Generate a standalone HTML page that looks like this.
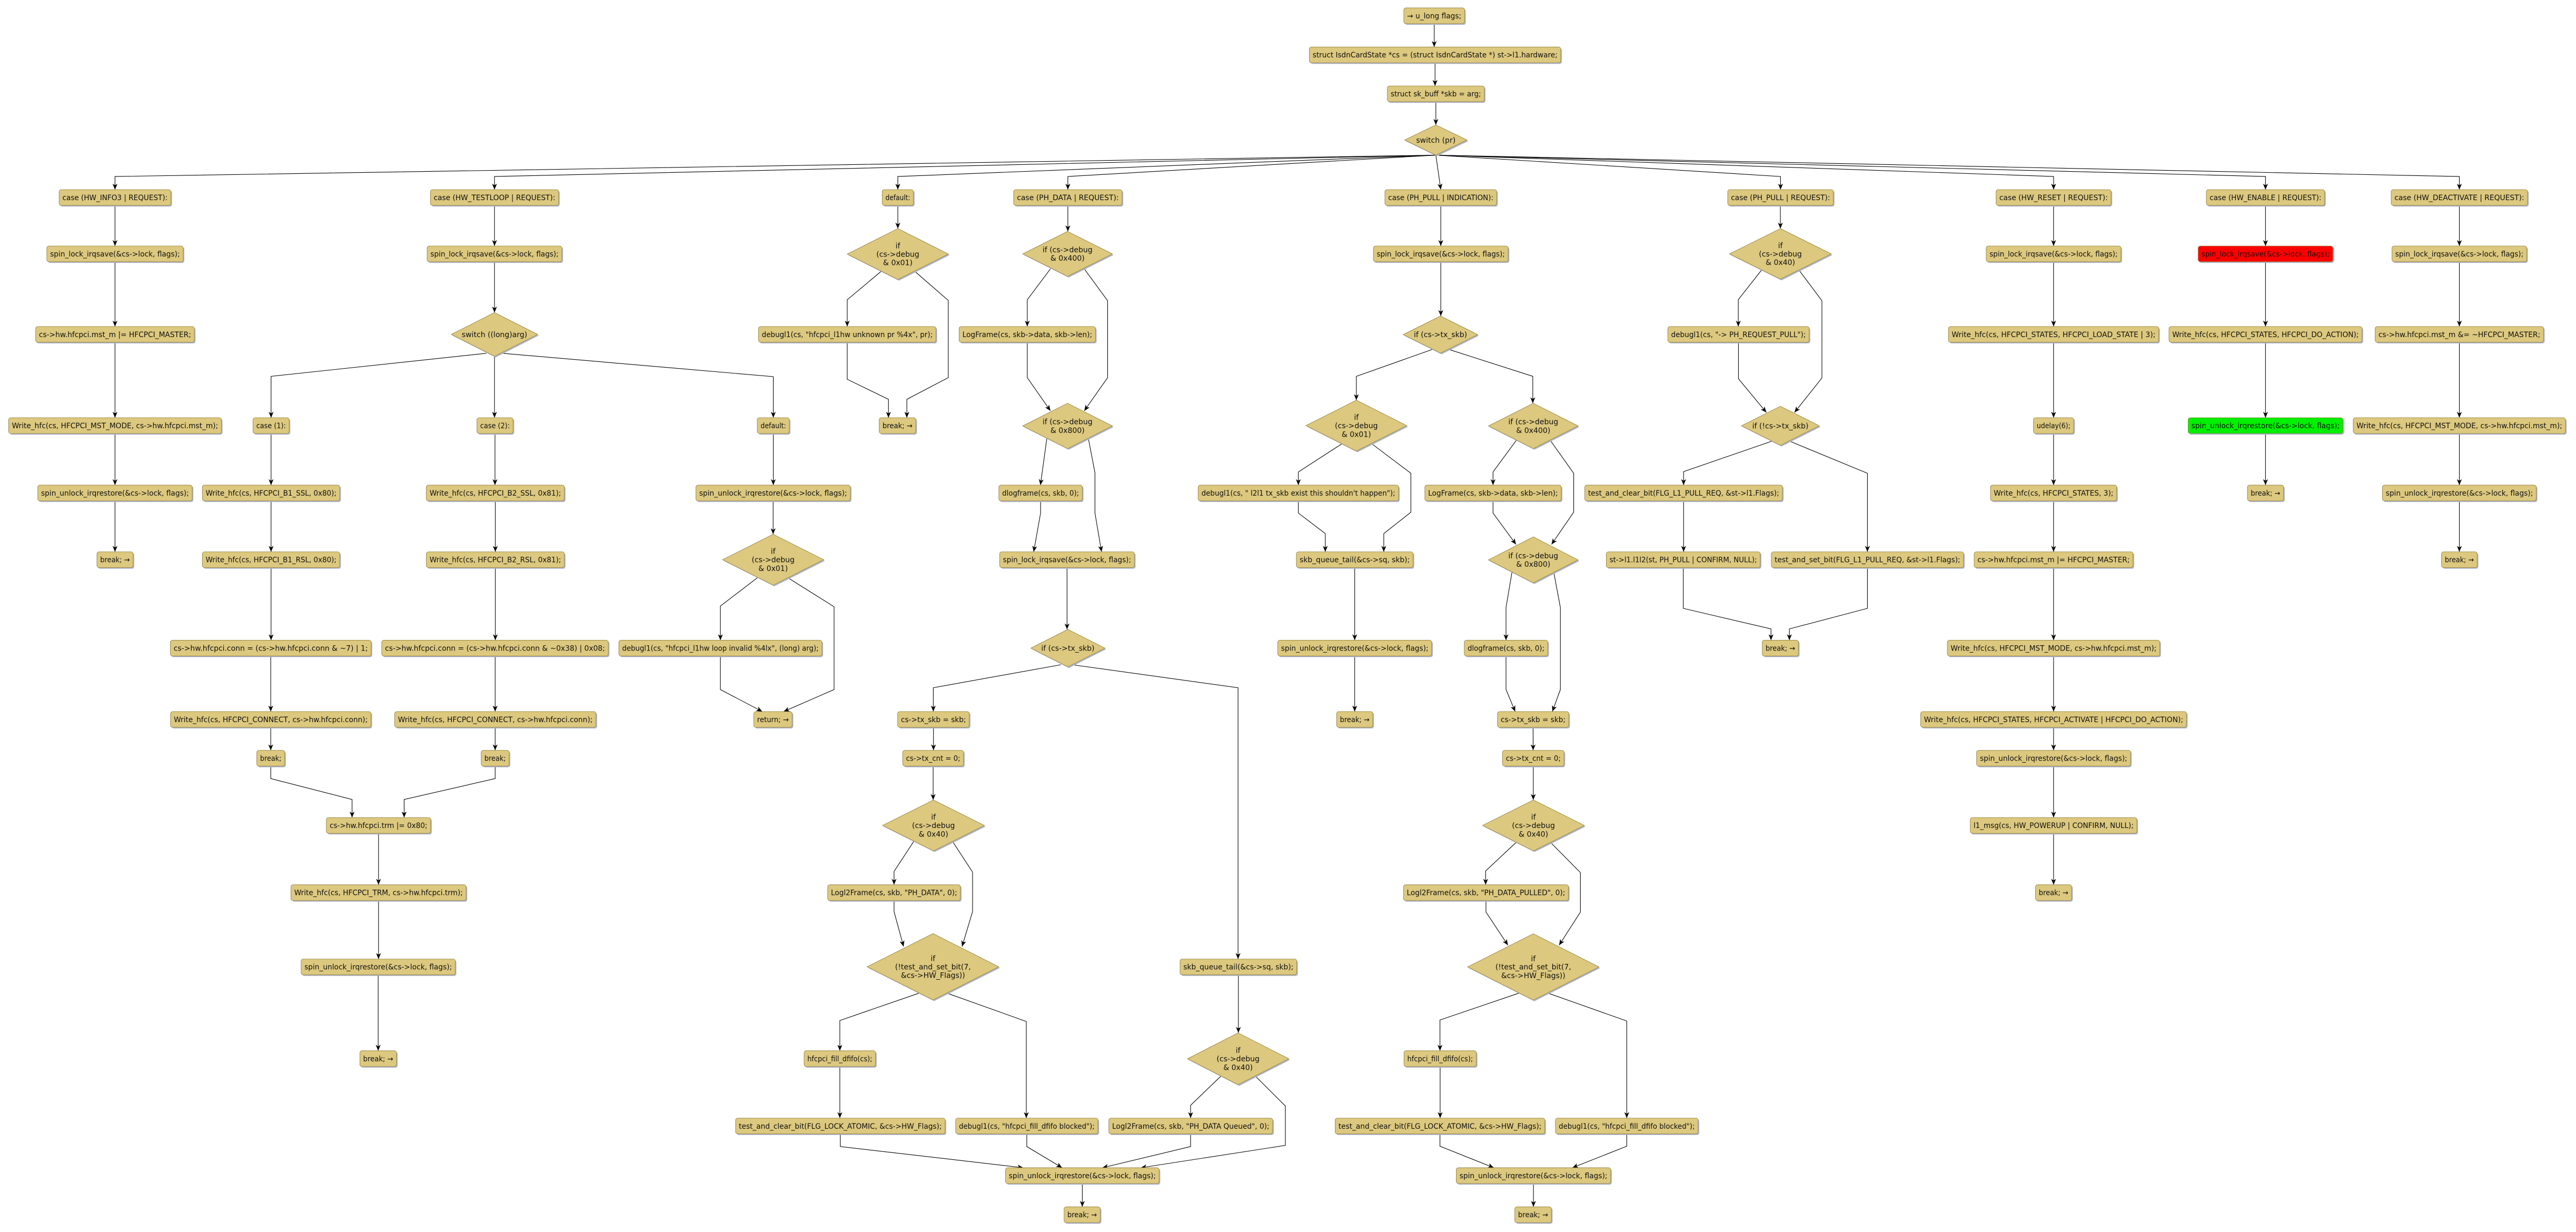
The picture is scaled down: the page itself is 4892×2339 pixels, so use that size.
<!DOCTYPE html>
<html><head><meta charset="utf-8"><style>
html,body{margin:0;padding:0;background:#fff}
svg{display:block}
.s{fill:#aeb6d0}
.b{fill:#dcc87e;stroke:#9a8644;stroke-width:.3}
.r{fill:#ff0000;stroke:#9a8644;stroke-width:.3}
.g{fill:#00f000;stroke:#9a8644;stroke-width:.3}
text{font-family:"DejaVu Sans","Liberation Sans",sans-serif;font-size:4.5px;fill:#111;text-anchor:middle}
.e{fill:none;stroke:#000;stroke-width:.35;marker-end:url(#a)}
</style></head><body>
<svg width="4892" height="2339" viewBox="0 0 1568 749.7" preserveAspectRatio="none" xmlns="http://www.w3.org/2000/svg">
<defs><marker id="a" markerUnits="userSpaceOnUse" markerWidth="4" markerHeight="3.2" refX="3.6" refY="1.5" orient="auto"><path d="M0,0 L3.6,1.5 L0,3 L1,1.5z" fill="#000"/></marker></defs>

<!-- EDGES -->
<g>
<path class="e" d="M873 14.4V28.6"/><path class="e" d="M873.5 38.2V52.3"/><path class="e" d="M874 61.9V76"/>
<path class="e" d="M874 94.4L70 107.4V115.4"/><path class="e" d="M874 94.4L301 107.4V115.4"/><path class="e" d="M874 94.4L546.5 107.4V115.4"/><path class="e" d="M874 94.4L650 107.4V115.4"/><path class="e" d="M874 94.4L877 115.4"/><path class="e" d="M874 94.4L1083.8 107.4V115.4"/><path class="e" d="M874 94.4L1250 107.4V115.4"/><path class="e" d="M874 94.4L1379 107.4V115.4"/><path class="e" d="M874 94.4L1497 107.4V115.4"/>
<!-- HW_INFO3 -->
<path class="e" d="M70 125V149.7"/><path class="e" d="M70 159.3V198.7"/><path class="e" d="M70 208.3V254.2"/><path class="e" d="M70 263.8V295.2"/><path class="e" d="M70 304.8V335.8"/>
<!-- TESTLOOP -->
<path class="e" d="M301 125V149.7"/><path class="e" d="M301 159.3V190.2"/>
<path class="e" d="M296 215L165 229V254.2"/><path class="e" d="M301 216.8V254.2"/><path class="e" d="M306 215L470.7 229.2V254.2"/>
<path class="e" d="M165 263.8V295.2"/><path class="e" d="M165 304.8V335.8"/><path class="e" d="M165 345.4V389.6"/><path class="e" d="M164.8 399.2V433"/><path class="e" d="M164.8 442.6V456.6"/>
<path class="e" d="M301.3 263.8V295.2"/><path class="e" d="M301.5 304.8V335.8"/><path class="e" d="M301.5 345.4V389.6"/><path class="e" d="M301.4 399.2V433"/><path class="e" d="M301.4 442.6V456.6"/>
<path class="e" d="M164.8 466.2V473.8L214.3 486.5V497.5"/><path class="e" d="M301.4 466.2V473.8L246 486.5V497.5"/>
<path class="e" d="M230.4 507.1V538.4"/><path class="e" d="M230.4 548V583.6"/><path class="e" d="M230.2 593.2V639.4"/>
<path class="e" d="M470.7 263.8V295.2"/><path class="e" d="M470.6 304.8V325.1"/>
<path class="e" d="M461 351.6L438.5 368.8V389.6"/><path class="e" d="M479.6 351.6L507.7 369.2V419.6L477 433"/><path class="e" d="M438.5 399.2V419.6L464 433"/>
<!-- default main -->
<path class="e" d="M546.5 125V139.1"/>
<path class="e" d="M536.5 165L515.7 182.4V198.7"/><path class="e" d="M556.7 165L577.2 182.8V229.8L552 243V254.2"/><path class="e" d="M515.7 208.3V230.8L540.8 243V254.2"/>
<!-- PH_DATA -->
<path class="e" d="M650 125V140.8"/>
<path class="e" d="M639.4 163.6L625.3 182.4V198.7"/><path class="e" d="M660 163.6L674.2 183V229.8L660 250"/><path class="e" d="M625.3 208.3V229.8L639.4 250"/>
<path class="e" d="M637.2 266.9L633.3 295.2"/><path class="e" d="M662.5 266.9L666.5 287.7V312.2L670.5 335.8"/><path class="e" d="M633.4 304.8V312.2L629.2 335.8"/>
<path class="e" d="M649.5 345.4V383"/>
<path class="e" d="M645.8 404.5L568.1 418.5V433"/><path class="e" d="M652.6 404.5L753.6 418.5V583.6"/>
<path class="e" d="M568.2 442.6V456.6"/><path class="e" d="M568 466.2V486.8"/>
<path class="e" d="M556.2 512L544.2 530.3V538.4"/><path class="e" d="M579.8 512L592 530.7V554.7L585.6 576"/><path class="e" d="M544.2 548V554.7L550 576"/>
<path class="e" d="M559.3 604.4L511.2 621V639.4"/><path class="e" d="M576.6 604.4L624.7 621.6V680.4"/>
<path class="e" d="M511.2 649V680.4"/>
<path class="e" d="M511.5 690V697.7L622.9 710.6"/><path class="e" d="M625 690V697.7L646.5 710.6"/>
<path class="e" d="M753.8 593.2V628.5"/>
<path class="e" d="M743 655L724.7 672.6V680.4"/><path class="e" d="M764.3 655L782.4 673V697L694.4 710.6"/><path class="e" d="M724.7 690V697.7L671 710.6"/>
<path class="e" d="M658.8 720.2V734.4"/>
<!-- PH_PULL IND -->
<path class="e" d="M877 125V149.7"/><path class="e" d="M877 159.3V192.3"/>
<path class="e" d="M872 212.6L825.6 229V243.5"/><path class="e" d="M881.8 212.6L933 229V245.4"/>
<path class="e" d="M816.6 270.2L790.3 287.2V295.2"/><path class="e" d="M835.2 270.2L858.8 288V311.7L842.3 324.7V335.8"/><path class="e" d="M790.3 304.8V312.2L806.7 324.7V335.8"/>
<path class="e" d="M824.6 345.4V389.6"/><path class="e" d="M824.6 399.2V433"/>
<path class="e" d="M923 267.9L908.8 287.2V295.2"/><path class="e" d="M943.6 267.9L957.9 288V311.7L944.4 331.3"/><path class="e" d="M908.8 304.8V312.2L922.8 331.3"/>
<path class="e" d="M920.3 348.4L916.7 369.7V389.6"/><path class="e" d="M945.8 348.4L949.8 369.7V419.6L944.9 433"/><path class="e" d="M916.7 399.2V419.6L922.3 433"/>
<path class="e" d="M933.2 442.6V456.6"/><path class="e" d="M933.3 466.2V486.8"/>
<path class="e" d="M923 512.5L904.3 530V538.4"/><path class="e" d="M943.7 512.5L962 531V555L949 575.2"/><path class="e" d="M904.5 548V555L917.9 575.2"/>
<path class="e" d="M925 604.2L876.5 620.7V639.4"/><path class="e" d="M941.9 604.2L990.2 621.3V680.4"/>
<path class="e" d="M876.6 649V680.4"/>
<path class="e" d="M876.5 690V697.5L909.3 710.6"/><path class="e" d="M990.2 690V697.5L957.1 710.6"/>
<path class="e" d="M933.4 720.2V734.4"/>
<!-- PH_PULL REQ -->
<path class="e" d="M1083.7 125V139.1"/>
<path class="e" d="M1072.3 164.3L1058.1 182.3V198.7"/><path class="e" d="M1095 164.3L1109 183V230L1092.3 251"/><path class="e" d="M1058.2 208.3V230.5L1075.2 251"/>
<path class="e" d="M1078.7 268.4L1024.8 287V295.2"/><path class="e" d="M1089.2 268.4L1136.7 288V335.8"/>
<path class="e" d="M1024.8 304.8V335.8"/>
<path class="e" d="M1024.6 345.4V370.2L1078 382.7V389.6"/><path class="e" d="M1136.7 345.4V370.2L1089.2 382.7V389.6"/>
<!-- HW_RESET -->
<path class="e" d="M1250 125V149.7"/><path class="e" d="M1250 159.3V198.7"/><path class="e" d="M1250 208.3V254.2"/><path class="e" d="M1250 263.8V295.2"/><path class="e" d="M1250 304.8V335.8"/><path class="e" d="M1250 345.4V389.6"/><path class="e" d="M1250 399.2V433"/><path class="e" d="M1250 442.6V456.6"/><path class="e" d="M1250 466.2V497.5"/><path class="e" d="M1250 507.1V538.4"/>
<!-- HW_ENABLE -->
<path class="e" d="M1379 125V149.7"/><path class="e" d="M1379 159.3V198.7"/><path class="e" d="M1379 208.3V254.2"/><path class="e" d="M1379 263.8V295.2"/>
<!-- HW_DEACT -->
<path class="e" d="M1497 125V149.7"/><path class="e" d="M1497 159.3V198.7"/><path class="e" d="M1497 208.3V254.2"/><path class="e" d="M1497 263.8V295.2"/><path class="e" d="M1497 304.8V335.8"/>
</g>

<!-- DIAMONDS -->
<g>
<polygon class="s" points="874.7,76.7 893.7,85.9 874.7,95.1 855.7,85.9"/><polygon class="b" points="874,76 893,85.2 874,94.4 855,85.2"/><text x="874" y="86.8">switch (pr)</text>

<polygon class="s" points="301.7,190.9 328,204.2 301.7,217.5 275.4,204.2"/><polygon class="b" points="301,190.2 327.3,203.5 301,216.8 274.7,203.5"/><text x="301" y="205.1">switch ((long)arg)</text>

<polygon class="s" points="471.3,325.8 502.1,341.3 471.3,356.8 440.5,341.3"/><polygon class="b" points="470.6,325.1 501.4,340.6 470.6,356.1 439.8,340.6"/><text x="470.6" y="337.1">if</text><text x="470.6" y="342.2">(cs-&gt;debug</text><text x="470.6" y="347.4">&amp; 0x01)</text>

<polygon class="s" points="547.2,139.8 578,155.3 547.2,170.8 516.4,155.3"/><polygon class="b" points="546.5,139.1 577.3,154.6 546.5,170.1 515.7,154.6"/><text x="546.5" y="151.1">if</text><text x="546.5" y="156.2">(cs-&gt;debug</text><text x="546.5" y="161.4">&amp; 0x01)</text>

<polygon class="s" points="650.5,141.5 677.8,155.2 650.5,168.9 623.2,155.2"/><polygon class="b" points="649.8,140.8 677.1,154.5 649.8,168.2 622.5,154.5"/><text x="649.8" y="153.5">if (cs-&gt;debug</text><text x="649.8" y="158.7">&amp; 0x400)</text>

<polygon class="s" points="650.5,246.1 677.8,259.9 650.5,273.7 623.2,259.9"/><polygon class="b" points="649.8,245.4 677.1,259.2 649.8,273 622.5,259.2"/><text x="649.8" y="258.2">if (cs-&gt;debug</text><text x="649.8" y="263.4">&amp; 0x800)</text>

<polygon class="s" points="650.7,383.7 673.3,395.1 650.7,406.5 628.1,395.1"/><polygon class="b" points="650,383 672.6,394.4 650,405.8 627.4,394.4"/><text x="650" y="396">if (cs-&gt;tx_skb)</text>

<polygon class="s" points="568.9,487.5 599.9,503 568.9,518.5 537.9,503"/><polygon class="b" points="568.2,486.8 599.2,502.3 568.2,517.8 537.2,502.3"/><text x="568.2" y="498.8">if</text><text x="568.2" y="503.9">(cs-&gt;debug</text><text x="568.2" y="509.1">&amp; 0x40)</text>

<polygon class="s" points="568.6,568.8 608.7,589 568.6,609.2 528.5,589"/><polygon class="b" points="567.9,568.1 608,588.3 567.9,608.5 527.8,588.3"/><text x="567.9" y="584.8">if</text><text x="567.9" y="589.9">(!test_and_set_bit(7,</text><text x="567.9" y="595.1">&amp;cs-&gt;HW_Flags))</text>

<polygon class="s" points="754.3,629.2 785.2,645 754.3,660.8 723.5,645"/><polygon class="b" points="753.6,628.5 784.5,644.3 753.6,660.1 722.8,644.3"/><text x="753.6" y="640.8">if</text><text x="753.6" y="645.9">(cs-&gt;debug</text><text x="753.6" y="651.1">&amp; 0x40)</text>

<polygon class="s" points="877.5,193 900.2,204.3 877.5,215.6 854.8,204.3"/><polygon class="b" points="876.8,192.3 899.5,203.6 876.8,214.9 854.1,203.6"/><text x="876.8" y="205.2">if (cs-&gt;tx_skb)</text>

<polygon class="s" points="826.3,244.2 857,259.7 826.3,275.2 795.6,259.7"/><polygon class="b" points="825.6,243.5 856.3,259 825.6,274.5 794.9,259"/><text x="825.6" y="255.5">if</text><text x="825.6" y="260.6">(cs-&gt;debug</text><text x="825.6" y="265.8">&amp; 0x01)</text>

<polygon class="s" points="934,246.1 961.3,259.9 934,273.7 906.7,259.9"/><polygon class="b" points="933.3,245.4 960.6,259.2 933.3,273 906,259.2"/><text x="933.3" y="258.2">if (cs-&gt;debug</text><text x="933.3" y="263.4">&amp; 0x400)</text>

<polygon class="s" points="934,327.4 961.3,341.4 934,355.4 906.7,341.4"/><polygon class="b" points="933.3,326.7 960.6,340.7 933.3,354.7 906,340.7"/><text x="933.3" y="339.7">if (cs-&gt;debug</text><text x="933.3" y="344.9">&amp; 0x800)</text>

<polygon class="s" points="934.1,487.5 965.1,503 934.1,518.5 903.1,503"/><polygon class="b" points="933.4,486.8 964.4,502.3 933.4,517.8 902.4,502.3"/><text x="933.4" y="498.8">if</text><text x="933.4" y="503.9">(cs-&gt;debug</text><text x="933.4" y="509.1">&amp; 0x40)</text>

<polygon class="s" points="934,568.9 974,589.1 934,609.3 894,589.1"/><polygon class="b" points="933.3,568.2 973.3,588.4 933.3,608.6 893.3,588.4"/><text x="933.3" y="584.9">if</text><text x="933.3" y="590">(!test_and_set_bit(7,</text><text x="933.3" y="595.2">&amp;cs-&gt;HW_Flags))</text>

<polygon class="s" points="1084.4,139.8 1115.4,155.2 1084.4,170.6 1053.4,155.2"/><polygon class="b" points="1083.7,139.1 1114.7,154.5 1083.7,169.9 1052.7,154.5"/><text x="1083.7" y="151">if</text><text x="1083.7" y="156.1">(cs-&gt;debug</text><text x="1083.7" y="161.3">&amp; 0x40)</text>

<polygon class="s" points="1084.4,247.9 1108.1,259.8 1084.4,271.7 1060.7,259.8"/><polygon class="b" points="1083.7,247.2 1107.4,259.1 1083.7,271 1060,259.1"/><text x="1083.7" y="260.7">if (!cs-&gt;tx_skb)</text>
</g>

<!-- BOXES -->
<g>
<rect class="s" x="855.2" y="5.5" width="37" height="9.6" rx="1.3"/><rect class="b" x="854.5" y="4.8" width="37" height="9.6" rx="1.3"/><text x="873" y="11.2" textLength="33" lengthAdjust="spacingAndGlyphs">→ u_long flags;</text>
<rect class="s" x="797.7" y="29.3" width="153" height="9.6" rx="1.3"/><rect class="b" x="797" y="28.6" width="153" height="9.6" rx="1.3"/><text x="873.5" y="35" textLength="149" lengthAdjust="spacingAndGlyphs">struct IsdnCardState *cs = (struct IsdnCardState *) st-&gt;l1.hardware;</text>
<rect class="s" x="845.2" y="53" width="59" height="9.6" rx="1.3"/><rect class="b" x="844.5" y="52.3" width="59" height="9.6" rx="1.3"/><text x="874" y="58.7" textLength="55" lengthAdjust="spacingAndGlyphs">struct sk_buff *skb = arg;</text>

<rect class="s" x="36.7" y="116.1" width="68" height="9.6" rx="1.3"/><rect class="b" x="36" y="115.4" width="68" height="9.6" rx="1.3"/><text x="70" y="121.8" textLength="64" lengthAdjust="spacingAndGlyphs">case (HW_INFO3 | REQUEST):</text>
<rect class="s" x="262.7" y="116.1" width="78" height="9.6" rx="1.3"/><rect class="b" x="262" y="115.4" width="78" height="9.6" rx="1.3"/><text x="301" y="121.8" textLength="74" lengthAdjust="spacingAndGlyphs">case (HW_TESTLOOP | REQUEST):</text>
<rect class="s" x="537.7" y="116.1" width="19" height="9.6" rx="1.3"/><rect class="b" x="537" y="115.4" width="19" height="9.6" rx="1.3"/><text x="546.5" y="121.8" textLength="15" lengthAdjust="spacingAndGlyphs">default:</text>
<rect class="s" x="617.7" y="116.1" width="66" height="9.6" rx="1.3"/><rect class="b" x="617" y="115.4" width="66" height="9.6" rx="1.3"/><text x="650" y="121.8" textLength="62" lengthAdjust="spacingAndGlyphs">case (PH_DATA | REQUEST):</text>
<rect class="s" x="843.7" y="116.1" width="68" height="9.6" rx="1.3"/><rect class="b" x="843" y="115.4" width="68" height="9.6" rx="1.3"/><text x="877" y="121.8" textLength="64" lengthAdjust="spacingAndGlyphs">case (PH_PULL | INDICATION):</text>
<rect class="s" x="1052.35" y="116.1" width="64.3" height="9.6" rx="1.3"/><rect class="b" x="1051.65" y="115.4" width="64.3" height="9.6" rx="1.3"/><text x="1083.8" y="121.8" textLength="60.3" lengthAdjust="spacingAndGlyphs">case (PH_PULL | REQUEST):</text>
<rect class="s" x="1215.7" y="116.1" width="70" height="9.6" rx="1.3"/><rect class="b" x="1215" y="115.4" width="70" height="9.6" rx="1.3"/><text x="1250" y="121.8" textLength="66" lengthAdjust="spacingAndGlyphs">case (HW_RESET | REQUEST):</text>
<rect class="s" x="1343.7" y="116.1" width="72" height="9.6" rx="1.3"/><rect class="b" x="1343" y="115.4" width="72" height="9.6" rx="1.3"/><text x="1379" y="121.8" textLength="68" lengthAdjust="spacingAndGlyphs">case (HW_ENABLE | REQUEST):</text>
<rect class="s" x="1456.2" y="116.1" width="83" height="9.6" rx="1.3"/><rect class="b" x="1455.5" y="115.4" width="83" height="9.6" rx="1.3"/><text x="1497" y="121.8" textLength="79" lengthAdjust="spacingAndGlyphs">case (HW_DEACTIVATE | REQUEST):</text>

<!-- HW_INFO3 -->
<rect class="s" x="29.2" y="150.4" width="83" height="9.6" rx="1.3"/><rect class="b" x="28.5" y="149.7" width="83" height="9.6" rx="1.3"/><text x="70" y="156.1" textLength="79" lengthAdjust="spacingAndGlyphs">spin_lock_irqsave(&amp;cs-&gt;lock, flags);</text>
<rect class="s" x="22.4" y="199.4" width="96.6" height="9.6" rx="1.3"/><rect class="b" x="21.7" y="198.7" width="96.6" height="9.6" rx="1.3"/><text x="70" y="205.1" textLength="92.6" lengthAdjust="spacingAndGlyphs">cs-&gt;hw.hfcpci.mst_m |= HFCPCI_MASTER;</text>
<rect class="s" x="5.95" y="254.9" width="129.5" height="9.6" rx="1.3"/><rect class="b" x="5.25" y="254.2" width="129.5" height="9.6" rx="1.3"/><text x="70" y="260.6" textLength="125.5" lengthAdjust="spacingAndGlyphs">Write_hfc(cs, HFCPCI_MST_MODE, cs-&gt;hw.hfcpci.mst_m);</text>
<rect class="s" x="23.7" y="295.9" width="94" height="9.6" rx="1.3"/><rect class="b" x="23" y="295.2" width="94" height="9.6" rx="1.3"/><text x="70" y="301.6" textLength="90" lengthAdjust="spacingAndGlyphs">spin_unlock_irqrestore(&amp;cs-&gt;lock, flags);</text>
<rect class="s" x="59.7" y="336.5" width="22" height="9.6" rx="1.3"/><rect class="b" x="59" y="335.8" width="22" height="9.6" rx="1.3"/><text x="70" y="342.2" textLength="18" lengthAdjust="spacingAndGlyphs">break; →</text>

<!-- TESTLOOP -->
<rect class="s" x="260.7" y="150.4" width="82" height="9.6" rx="1.3"/><rect class="b" x="260" y="149.7" width="82" height="9.6" rx="1.3"/><text x="301" y="156.1" textLength="78" lengthAdjust="spacingAndGlyphs">spin_lock_irqsave(&amp;cs-&gt;lock, flags);</text>
<rect class="s" x="154.7" y="254.9" width="22" height="9.6" rx="1.3"/><rect class="b" x="154" y="254.2" width="22" height="9.6" rx="1.3"/><text x="165" y="260.6" textLength="18" lengthAdjust="spacingAndGlyphs">case (1):</text>
<rect class="s" x="291" y="254.9" width="22" height="9.6" rx="1.3"/><rect class="b" x="290.3" y="254.2" width="22" height="9.6" rx="1.3"/><text x="301.3" y="260.6" textLength="18" lengthAdjust="spacingAndGlyphs">case (2):</text>
<rect class="s" x="461.65" y="254.9" width="19.5" height="9.6" rx="1.3"/><rect class="b" x="460.95" y="254.2" width="19.5" height="9.6" rx="1.3"/><text x="470.7" y="260.6" textLength="15.5" lengthAdjust="spacingAndGlyphs">default:</text>
<rect class="s" x="123.9" y="295.9" width="83.6" height="9.6" rx="1.3"/><rect class="b" x="123.2" y="295.2" width="83.6" height="9.6" rx="1.3"/><text x="165" y="301.6" textLength="79.6" lengthAdjust="spacingAndGlyphs">Write_hfc(cs, HFCPCI_B1_SSL, 0x80);</text>
<rect class="s" x="123.9" y="336.5" width="83.6" height="9.6" rx="1.3"/><rect class="b" x="123.2" y="335.8" width="83.6" height="9.6" rx="1.3"/><text x="165" y="342.2" textLength="79.6" lengthAdjust="spacingAndGlyphs">Write_hfc(cs, HFCPCI_B1_RSL, 0x80);</text>
<rect class="s" x="104.4" y="390.3" width="122.2" height="9.6" rx="1.3"/><rect class="b" x="103.7" y="389.6" width="122.2" height="9.6" rx="1.3"/><text x="164.8" y="396" textLength="118.2" lengthAdjust="spacingAndGlyphs">cs-&gt;hw.hfcpci.conn = (cs-&gt;hw.hfcpci.conn &amp; ~7) | 1;</text>
<rect class="s" x="104.5" y="433.7" width="122" height="9.6" rx="1.3"/><rect class="b" x="103.8" y="433" width="122" height="9.6" rx="1.3"/><text x="164.8" y="439.4" textLength="118" lengthAdjust="spacingAndGlyphs">Write_hfc(cs, HFCPCI_CONNECT, cs-&gt;hw.hfcpci.conn);</text>
<rect class="s" x="157" y="457.3" width="17" height="9.6" rx="1.3"/><rect class="b" x="156.3" y="456.6" width="17" height="9.6" rx="1.3"/><text x="164.8" y="463" textLength="13" lengthAdjust="spacingAndGlyphs">break;</text>
<rect class="s" x="260.2" y="295.9" width="84" height="9.6" rx="1.3"/><rect class="b" x="259.5" y="295.2" width="84" height="9.6" rx="1.3"/><text x="301.5" y="301.6" textLength="80" lengthAdjust="spacingAndGlyphs">Write_hfc(cs, HFCPCI_B2_SSL, 0x81);</text>
<rect class="s" x="260.2" y="336.5" width="84" height="9.6" rx="1.3"/><rect class="b" x="259.5" y="335.8" width="84" height="9.6" rx="1.3"/><text x="301.5" y="342.2" textLength="80" lengthAdjust="spacingAndGlyphs">Write_hfc(cs, HFCPCI_B2_RSL, 0x81);</text>
<rect class="s" x="233.05" y="390.3" width="137.9" height="9.6" rx="1.3"/><rect class="b" x="232.35" y="389.6" width="137.9" height="9.6" rx="1.3"/><text x="301.3" y="396" textLength="133.9" lengthAdjust="spacingAndGlyphs">cs-&gt;hw.hfcpci.conn = (cs-&gt;hw.hfcpci.conn &amp; ~0x38) | 0x08;</text>
<rect class="s" x="240.95" y="433.7" width="122.5" height="9.6" rx="1.3"/><rect class="b" x="240.25" y="433" width="122.5" height="9.6" rx="1.3"/><text x="301.5" y="439.4" textLength="118.5" lengthAdjust="spacingAndGlyphs">Write_hfc(cs, HFCPCI_CONNECT, cs-&gt;hw.hfcpci.conn);</text>
<rect class="s" x="293.6" y="457.3" width="17" height="9.6" rx="1.3"/><rect class="b" x="292.9" y="456.6" width="17" height="9.6" rx="1.3"/><text x="301.4" y="463" textLength="13" lengthAdjust="spacingAndGlyphs">break;</text>
<rect class="s" x="199.35" y="498.2" width="63.5" height="9.6" rx="1.3"/><rect class="b" x="198.65" y="497.5" width="63.5" height="9.6" rx="1.3"/><text x="230.4" y="503.9" textLength="59.5" lengthAdjust="spacingAndGlyphs">cs-&gt;hw.hfcpci.trm |= 0x80;</text>
<rect class="s" x="177.8" y="539.1" width="106.6" height="9.6" rx="1.3"/><rect class="b" x="177.1" y="538.4" width="106.6" height="9.6" rx="1.3"/><text x="230.4" y="544.8" textLength="102.6" lengthAdjust="spacingAndGlyphs">Write_hfc(cs, HFCPCI_TRM, cs-&gt;hw.hfcpci.trm);</text>
<rect class="s" x="184" y="584.3" width="93.8" height="9.6" rx="1.3"/><rect class="b" x="183.3" y="583.6" width="93.8" height="9.6" rx="1.3"/><text x="230.2" y="590" textLength="89.8" lengthAdjust="spacingAndGlyphs">spin_unlock_irqrestore(&amp;cs-&gt;lock, flags);</text>
<rect class="s" x="219.75" y="640.1" width="22.3" height="9.6" rx="1.3"/><rect class="b" x="219.05" y="639.4" width="22.3" height="9.6" rx="1.3"/><text x="230.2" y="645.8" textLength="18.3" lengthAdjust="spacingAndGlyphs">break; →</text>
<rect class="s" x="424.3" y="295.9" width="94" height="9.6" rx="1.3"/><rect class="b" x="423.6" y="295.2" width="94" height="9.6" rx="1.3"/><text x="470.6" y="301.6" textLength="90" lengthAdjust="spacingAndGlyphs">spin_unlock_irqrestore(&amp;cs-&gt;lock, flags);</text>
<rect class="s" x="377.4" y="390.3" width="123.6" height="9.6" rx="1.3"/><rect class="b" x="376.7" y="389.6" width="123.6" height="9.6" rx="1.3"/><text x="438.5" y="396" textLength="119.6" lengthAdjust="spacingAndGlyphs">debugl1(cs, "hfcpci_l1hw loop invalid %4lx", (long) arg);</text>
<rect class="s" x="459.55" y="433.7" width="23.3" height="9.6" rx="1.3"/><rect class="b" x="458.85" y="433" width="23.3" height="9.6" rx="1.3"/><text x="470.5" y="439.4" textLength="19.3" lengthAdjust="spacingAndGlyphs">return; →</text>

<!-- default main -->
<rect class="s" x="462.4" y="199.4" width="108" height="9.6" rx="1.3"/><rect class="b" x="461.7" y="198.7" width="108" height="9.6" rx="1.3"/><text x="515.7" y="205.1" textLength="104" lengthAdjust="spacingAndGlyphs">debugl1(cs, "hfcpci_l1hw unknown pr %4x", pr);</text>
<rect class="s" x="535.85" y="254.9" width="22.3" height="9.6" rx="1.3"/><rect class="b" x="535.15" y="254.2" width="22.3" height="9.6" rx="1.3"/><text x="546.3" y="260.6" textLength="18.3" lengthAdjust="spacingAndGlyphs">break; →</text>

<!-- PH_DATA -->
<rect class="s" x="584.5" y="199.4" width="83" height="9.6" rx="1.3"/><rect class="b" x="583.8" y="198.7" width="83" height="9.6" rx="1.3"/><text x="625.3" y="205.1" textLength="79" lengthAdjust="spacingAndGlyphs">LogFrame(cs, skb-&gt;data, skb-&gt;len);</text>
<rect class="s" x="608.7" y="295.9" width="50.8" height="9.6" rx="1.3"/><rect class="b" x="608" y="295.2" width="50.8" height="9.6" rx="1.3"/><text x="633.4" y="301.6" textLength="46.8" lengthAdjust="spacingAndGlyphs">dlogframe(cs, skb, 0);</text>
<rect class="s" x="609.2" y="336.5" width="82" height="9.6" rx="1.3"/><rect class="b" x="608.5" y="335.8" width="82" height="9.6" rx="1.3"/><text x="649.5" y="342.2" textLength="78" lengthAdjust="spacingAndGlyphs">spin_lock_irqsave(&amp;cs-&gt;lock, flags);</text>
<rect class="s" x="547.1" y="433.7" width="43.6" height="9.6" rx="1.3"/><rect class="b" x="546.4" y="433" width="43.6" height="9.6" rx="1.3"/><text x="568.2" y="439.4" textLength="39.6" lengthAdjust="spacingAndGlyphs">cs-&gt;tx_skb = skb;</text>
<rect class="s" x="550.2" y="457.3" width="37" height="9.6" rx="1.3"/><rect class="b" x="549.5" y="456.6" width="37" height="9.6" rx="1.3"/><text x="568" y="463" textLength="33" lengthAdjust="spacingAndGlyphs">cs-&gt;tx_cnt = 0;</text>
<rect class="s" x="504.5" y="539.1" width="80.8" height="9.6" rx="1.3"/><rect class="b" x="503.8" y="538.4" width="80.8" height="9.6" rx="1.3"/><text x="544.2" y="544.8" textLength="76.8" lengthAdjust="spacingAndGlyphs">Logl2Frame(cs, skb, "PH_DATA", 0);</text>
<rect class="s" x="490.15" y="640.1" width="43.5" height="9.6" rx="1.3"/><rect class="b" x="489.45" y="639.4" width="43.5" height="9.6" rx="1.3"/><text x="511.2" y="645.8" textLength="39.5" lengthAdjust="spacingAndGlyphs">hfcpci_fill_dfifo(cs);</text>
<rect class="s" x="448.45" y="681.1" width="127.5" height="9.6" rx="1.3"/><rect class="b" x="447.75" y="680.4" width="127.5" height="9.6" rx="1.3"/><text x="511.5" y="686.8" textLength="123.5" lengthAdjust="spacingAndGlyphs">test_and_clear_bit(FLG_LOCK_ATOMIC, &amp;cs-&gt;HW_Flags);</text>
<rect class="s" x="582.4" y="681.1" width="86.6" height="9.6" rx="1.3"/><rect class="b" x="581.7" y="680.4" width="86.6" height="9.6" rx="1.3"/><text x="625" y="686.8" textLength="82.6" lengthAdjust="spacingAndGlyphs">debugl1(cs, "hfcpci_fill_dfifo blocked");</text>
<rect class="s" x="612.75" y="711.3" width="93.5" height="9.6" rx="1.3"/><rect class="b" x="612.05" y="710.6" width="93.5" height="9.6" rx="1.3"/><text x="658.8" y="717" textLength="89.5" lengthAdjust="spacingAndGlyphs">spin_unlock_irqrestore(&amp;cs-&gt;lock, flags);</text>
<rect class="s" x="648.4" y="735.1" width="22" height="9.6" rx="1.3"/><rect class="b" x="647.7" y="734.4" width="22" height="9.6" rx="1.3"/><text x="658.7" y="740.8" textLength="18" lengthAdjust="spacingAndGlyphs">break; →</text>
<rect class="s" x="719" y="584.3" width="71" height="9.6" rx="1.3"/><rect class="b" x="718.3" y="583.6" width="71" height="9.6" rx="1.3"/><text x="753.8" y="590" textLength="67" lengthAdjust="spacingAndGlyphs">skb_queue_tail(&amp;cs-&gt;sq, skb);</text>
<rect class="s" x="675.65" y="681.1" width="99.7" height="9.6" rx="1.3"/><rect class="b" x="674.95" y="680.4" width="99.7" height="9.6" rx="1.3"/><text x="724.8" y="686.8" textLength="95.7" lengthAdjust="spacingAndGlyphs">Logl2Frame(cs, skb, "PH_DATA Queued", 0);</text>

<!-- PH_PULL IND -->
<rect class="s" x="836.7" y="150.4" width="82" height="9.6" rx="1.3"/><rect class="b" x="836" y="149.7" width="82" height="9.6" rx="1.3"/><text x="877" y="156.1" textLength="78" lengthAdjust="spacingAndGlyphs">spin_lock_irqsave(&amp;cs-&gt;lock, flags);</text>
<rect class="s" x="730" y="295.9" width="122" height="9.6" rx="1.3"/><rect class="b" x="729.3" y="295.2" width="122" height="9.6" rx="1.3"/><text x="790.3" y="301.6" textLength="118" lengthAdjust="spacingAndGlyphs">debugl1(cs, " l2l1 tx_skb exist this shouldn't happen");</text>
<rect class="s" x="789.8" y="336.5" width="71" height="9.6" rx="1.3"/><rect class="b" x="789.1" y="335.8" width="71" height="9.6" rx="1.3"/><text x="824.6" y="342.2" textLength="67" lengthAdjust="spacingAndGlyphs">skb_queue_tail(&amp;cs-&gt;sq, skb);</text>
<rect class="s" x="778.45" y="390.3" width="93.7" height="9.6" rx="1.3"/><rect class="b" x="777.75" y="389.6" width="93.7" height="9.6" rx="1.3"/><text x="824.6" y="396" textLength="89.7" lengthAdjust="spacingAndGlyphs">spin_unlock_irqrestore(&amp;cs-&gt;lock, flags);</text>
<rect class="s" x="814.3" y="433.7" width="22" height="9.6" rx="1.3"/><rect class="b" x="813.6" y="433" width="22" height="9.6" rx="1.3"/><text x="824.6" y="439.4" textLength="18" lengthAdjust="spacingAndGlyphs">break; →</text>
<rect class="s" x="868" y="295.9" width="83" height="9.6" rx="1.3"/><rect class="b" x="867.3" y="295.2" width="83" height="9.6" rx="1.3"/><text x="908.8" y="301.6" textLength="79" lengthAdjust="spacingAndGlyphs">LogFrame(cs, skb-&gt;data, skb-&gt;len);</text>
<rect class="s" x="892" y="390.3" width="50.8" height="9.6" rx="1.3"/><rect class="b" x="891.3" y="389.6" width="50.8" height="9.6" rx="1.3"/><text x="916.7" y="396" textLength="46.8" lengthAdjust="spacingAndGlyphs">dlogframe(cs, skb, 0);</text>
<rect class="s" x="912.2" y="433.7" width="43.4" height="9.6" rx="1.3"/><rect class="b" x="911.5" y="433" width="43.4" height="9.6" rx="1.3"/><text x="933.2" y="439.4" textLength="39.4" lengthAdjust="spacingAndGlyphs">cs-&gt;tx_skb = skb;</text>
<rect class="s" x="915.3" y="457.3" width="37.4" height="9.6" rx="1.3"/><rect class="b" x="914.6" y="456.6" width="37.4" height="9.6" rx="1.3"/><text x="933.3" y="463" textLength="33.4" lengthAdjust="spacingAndGlyphs">cs-&gt;tx_cnt = 0;</text>
<rect class="s" x="855" y="539.1" width="100.4" height="9.6" rx="1.3"/><rect class="b" x="854.3" y="538.4" width="100.4" height="9.6" rx="1.3"/><text x="904.5" y="544.8" textLength="96.4" lengthAdjust="spacingAndGlyphs">Logl2Frame(cs, skb, "PH_DATA_PULLED", 0);</text>
<rect class="s" x="855.3" y="640.1" width="44" height="9.6" rx="1.3"/><rect class="b" x="854.6" y="639.4" width="44" height="9.6" rx="1.3"/><text x="876.6" y="645.8" textLength="40" lengthAdjust="spacingAndGlyphs">hfcpci_fill_dfifo(cs);</text>
<rect class="s" x="813.4" y="681.1" width="127.6" height="9.6" rx="1.3"/><rect class="b" x="812.7" y="680.4" width="127.6" height="9.6" rx="1.3"/><text x="876.5" y="686.8" textLength="123.6" lengthAdjust="spacingAndGlyphs">test_and_clear_bit(FLG_LOCK_ATOMIC, &amp;cs-&gt;HW_Flags);</text>
<rect class="s" x="947.5" y="681.1" width="86.8" height="9.6" rx="1.3"/><rect class="b" x="946.8" y="680.4" width="86.8" height="9.6" rx="1.3"/><text x="990.2" y="686.8" textLength="82.8" lengthAdjust="spacingAndGlyphs">debugl1(cs, "hfcpci_fill_dfifo blocked");</text>
<rect class="s" x="887.1" y="711.3" width="94" height="9.6" rx="1.3"/><rect class="b" x="886.4" y="710.6" width="94" height="9.6" rx="1.3"/><text x="933.4" y="717" textLength="90" lengthAdjust="spacingAndGlyphs">spin_unlock_irqrestore(&amp;cs-&gt;lock, flags);</text>
<rect class="s" x="922.75" y="735.1" width="22.3" height="9.6" rx="1.3"/><rect class="b" x="922.05" y="734.4" width="22.3" height="9.6" rx="1.3"/><text x="933.2" y="740.8" textLength="18.3" lengthAdjust="spacingAndGlyphs">break; →</text>

<!-- PH_PULL REQ -->
<rect class="s" x="1015.9" y="199.4" width="86" height="9.6" rx="1.3"/><rect class="b" x="1015.2" y="198.7" width="86" height="9.6" rx="1.3"/><text x="1058.2" y="205.1" textLength="82" lengthAdjust="spacingAndGlyphs">debugl1(cs, "-&gt; PH_REQUEST_PULL");</text>
<rect class="s" x="965.35" y="295.9" width="120.3" height="9.6" rx="1.3"/><rect class="b" x="964.65" y="295.2" width="120.3" height="9.6" rx="1.3"/><text x="1024.8" y="301.6" textLength="116.3" lengthAdjust="spacingAndGlyphs">test_and_clear_bit(FLG_L1_PULL_REQ, &amp;st-&gt;l1.Flags);</text>
<rect class="s" x="978.45" y="336.5" width="93.7" height="9.6" rx="1.3"/><rect class="b" x="977.75" y="335.8" width="93.7" height="9.6" rx="1.3"/><text x="1024.6" y="342.2" textLength="89.7" lengthAdjust="spacingAndGlyphs">st-&gt;l1.l1l2(st, PH_PULL | CONFIRM, NULL);</text>
<rect class="s" x="1078.9" y="336.5" width="117" height="9.6" rx="1.3"/><rect class="b" x="1078.2" y="335.8" width="117" height="9.6" rx="1.3"/><text x="1136.7" y="342.2" textLength="113" lengthAdjust="spacingAndGlyphs">test_and_set_bit(FLG_L1_PULL_REQ, &amp;st-&gt;l1.Flags);</text>
<rect class="s" x="1073.4" y="390.3" width="22" height="9.6" rx="1.3"/><rect class="b" x="1072.7" y="389.6" width="22" height="9.6" rx="1.3"/><text x="1083.7" y="396" textLength="18" lengthAdjust="spacingAndGlyphs">break; →</text>

<!-- HW_RESET -->
<rect class="s" x="1209.7" y="150.4" width="82" height="9.6" rx="1.3"/><rect class="b" x="1209" y="149.7" width="82" height="9.6" rx="1.3"/><text x="1250" y="156.1" textLength="78" lengthAdjust="spacingAndGlyphs">spin_lock_irqsave(&amp;cs-&gt;lock, flags);</text>
<rect class="s" x="1186.7" y="199.4" width="128" height="9.6" rx="1.3"/><rect class="b" x="1186" y="198.7" width="128" height="9.6" rx="1.3"/><text x="1250" y="205.1" textLength="124" lengthAdjust="spacingAndGlyphs">Write_hfc(cs, HFCPCI_STATES, HFCPCI_LOAD_STATE | 3);</text>
<rect class="s" x="1238.45" y="254.9" width="24.5" height="9.6" rx="1.3"/><rect class="b" x="1237.75" y="254.2" width="24.5" height="9.6" rx="1.3"/><text x="1250" y="260.6" textLength="20.5" lengthAdjust="spacingAndGlyphs">udelay(6);</text>
<rect class="s" x="1212.3" y="295.9" width="76.8" height="9.6" rx="1.3"/><rect class="b" x="1211.6" y="295.2" width="76.8" height="9.6" rx="1.3"/><text x="1250" y="301.6" textLength="72.8" lengthAdjust="spacingAndGlyphs">Write_hfc(cs, HFCPCI_STATES, 3);</text>
<rect class="s" x="1202.35" y="336.5" width="96.7" height="9.6" rx="1.3"/><rect class="b" x="1201.65" y="335.8" width="96.7" height="9.6" rx="1.3"/><text x="1250" y="342.2" textLength="92.7" lengthAdjust="spacingAndGlyphs">cs-&gt;hw.hfcpci.mst_m |= HFCPCI_MASTER;</text>
<rect class="s" x="1186.05" y="390.3" width="129.3" height="9.6" rx="1.3"/><rect class="b" x="1185.35" y="389.6" width="129.3" height="9.6" rx="1.3"/><text x="1250" y="396" textLength="125.3" lengthAdjust="spacingAndGlyphs">Write_hfc(cs, HFCPCI_MST_MODE, cs-&gt;hw.hfcpci.mst_m);</text>
<rect class="s" x="1169.8" y="433.7" width="161.8" height="9.6" rx="1.3"/><rect class="b" x="1169.1" y="433" width="161.8" height="9.6" rx="1.3"/><text x="1250" y="439.4" textLength="157.8" lengthAdjust="spacingAndGlyphs">Write_hfc(cs, HFCPCI_STATES, HFCPCI_ACTIVATE | HFCPCI_DO_ACTION);</text>
<rect class="s" x="1203.85" y="457.3" width="93.7" height="9.6" rx="1.3"/><rect class="b" x="1203.15" y="456.6" width="93.7" height="9.6" rx="1.3"/><text x="1250" y="463" textLength="89.7" lengthAdjust="spacingAndGlyphs">spin_unlock_irqrestore(&amp;cs-&gt;lock, flags);</text>
<rect class="s" x="1200" y="498.2" width="101.4" height="9.6" rx="1.3"/><rect class="b" x="1199.3" y="497.5" width="101.4" height="9.6" rx="1.3"/><text x="1250" y="503.9" textLength="97.4" lengthAdjust="spacingAndGlyphs">l1_msg(cs, HW_POWERUP | CONFIRM, NULL);</text>
<rect class="s" x="1239.7" y="539.1" width="22" height="9.6" rx="1.3"/><rect class="b" x="1239" y="538.4" width="22" height="9.6" rx="1.3"/><text x="1250" y="544.8" textLength="18" lengthAdjust="spacingAndGlyphs">break; →</text>

<!-- HW_ENABLE -->
<rect class="s" x="1338.7" y="150.4" width="82" height="9.6" rx="1.3"/><rect class="r" x="1338" y="149.7" width="82" height="9.6" rx="1.3"/><text x="1379" y="156.1" textLength="78" lengthAdjust="spacingAndGlyphs">spin_lock_irqsave(&amp;cs-&gt;lock, flags);</text>
<rect class="s" x="1320.95" y="199.4" width="117.5" height="9.6" rx="1.3"/><rect class="b" x="1320.25" y="198.7" width="117.5" height="9.6" rx="1.3"/><text x="1379" y="205.1" textLength="113.5" lengthAdjust="spacingAndGlyphs">Write_hfc(cs, HFCPCI_STATES, HFCPCI_DO_ACTION);</text>
<rect class="s" x="1332.6" y="254.9" width="94.2" height="9.6" rx="1.3"/><rect class="g" x="1331.9" y="254.2" width="94.2" height="9.6" rx="1.3"/><text x="1379" y="260.6" textLength="90.2" lengthAdjust="spacingAndGlyphs">spin_unlock_irqrestore(&amp;cs-&gt;lock, flags);</text>
<rect class="s" x="1368.7" y="295.9" width="22" height="9.6" rx="1.3"/><rect class="b" x="1368" y="295.2" width="22" height="9.6" rx="1.3"/><text x="1379" y="301.6" textLength="18" lengthAdjust="spacingAndGlyphs">break; →</text>

<!-- HW_DEACTIVATE -->
<rect class="s" x="1456.7" y="150.4" width="82" height="9.6" rx="1.3"/><rect class="b" x="1456" y="149.7" width="82" height="9.6" rx="1.3"/><text x="1497" y="156.1" textLength="78" lengthAdjust="spacingAndGlyphs">spin_lock_irqsave(&amp;cs-&gt;lock, flags);</text>
<rect class="s" x="1446.45" y="199.4" width="102.5" height="9.6" rx="1.3"/><rect class="b" x="1445.75" y="198.7" width="102.5" height="9.6" rx="1.3"/><text x="1497" y="205.1" textLength="98.5" lengthAdjust="spacingAndGlyphs">cs-&gt;hw.hfcpci.mst_m &amp;= ~HFCPCI_MASTER;</text>
<rect class="s" x="1433.1" y="254.9" width="129.2" height="9.6" rx="1.3"/><rect class="b" x="1432.4" y="254.2" width="129.2" height="9.6" rx="1.3"/><text x="1497" y="260.6" textLength="125.2" lengthAdjust="spacingAndGlyphs">Write_hfc(cs, HFCPCI_MST_MODE, cs-&gt;hw.hfcpci.mst_m);</text>
<rect class="s" x="1450.9" y="295.9" width="93.6" height="9.6" rx="1.3"/><rect class="b" x="1450.2" y="295.2" width="93.6" height="9.6" rx="1.3"/><text x="1497" y="301.6" textLength="89.6" lengthAdjust="spacingAndGlyphs">spin_unlock_irqrestore(&amp;cs-&gt;lock, flags);</text>
<rect class="s" x="1486.85" y="336.5" width="21.7" height="9.6" rx="1.3"/><rect class="b" x="1486.15" y="335.8" width="21.7" height="9.6" rx="1.3"/><text x="1497" y="342.2" textLength="17.7" lengthAdjust="spacingAndGlyphs">break; →</text>
</g>
</svg>
</body></html>
